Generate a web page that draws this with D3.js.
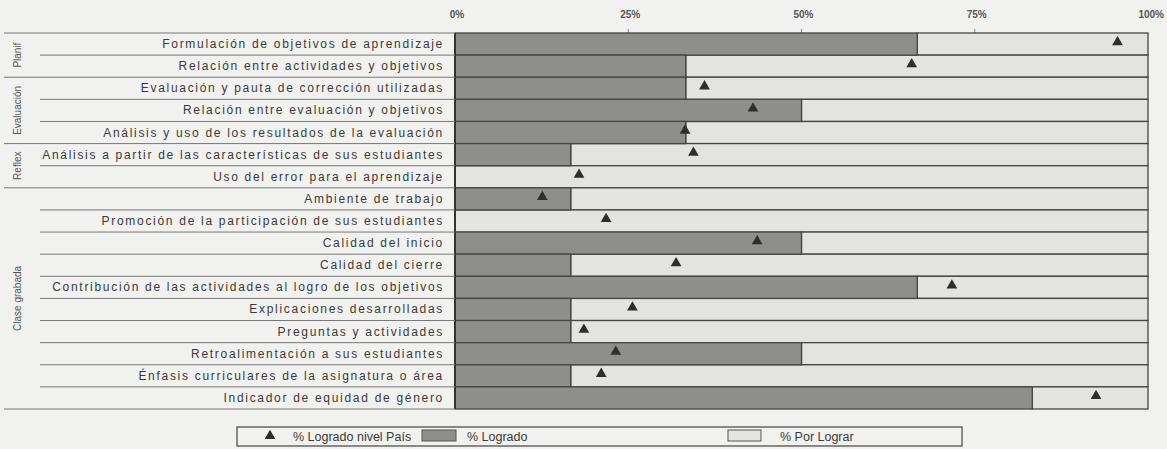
<!DOCTYPE html>
<html>
<head>
<meta charset="utf-8">
<script src="https://cdn.jsdelivr.net/npm/d3@7"></script>
<style>
  body { margin: 0; background: #f1f1ef; }
  svg { display: block; font-family: "Liberation Sans", Arial, sans-serif; }
</style>
</head>
<body>
<svg id="chart" width="1167" height="449"></svg>
<script>
// ---------------- DATA ----------------
const categories = [
  "Formulación de objetivos de aprendizaje",
  "Relación entre actividades y objetivos",
  "Evaluación y pauta de corrección utilizadas",
  "Relación entre evaluación y objetivos",
  "Análisis y uso de los resultados de la evaluación",
  "Análisis a partir de las características de sus estudiantes",
  "Uso del error para el aprendizaje",
  "Ambiente de trabajo",
  "Promoción de la participación de sus estudiantes",
  "Calidad del inicio",
  "Calidad del cierre",
  "Contribución de las actividades al logro de los objetivos",
  "Explicaciones desarrolladas",
  "Preguntas y actividades",
  "Retroalimentación a sus estudiantes",
  "Énfasis curriculares de la asignatura o área",
  "Indicador de equidad de género"
];
// % Logrado (escuela)
const logrado = [66.7, 33.3, 33.3, 50, 33.3, 16.7, 0, 16.7, 0, 50, 16.7, 66.7, 16.7, 16.7, 50, 16.7, 83.3];
// % Logrado nivel País
const pais = [95.6, 65.9, 36, 43, 33.2, 34.4, 17.9, 12.6, 21.8, 43.6, 31.9, 71.7, 25.6, 18.6, 23.2, 21.1, 92.5];
// groups: name, first row, last row
const groups = [
  { name: "Planif", start: 0, end: 1 },
  { name: "Evaluación", start: 2, end: 4 },
  { name: "Reflex", start: 5, end: 6 },
  { name: "Clase grabada", start: 7, end: 16 }
];
const ticks = [0, 25, 50, 75, 100];
const legendLabels = ["% Logrado nivel País", "% Logrado", "% Por Lograr"];

// ---------------- SETUP ----------------
const svg = d3.select("#chart");
const darkFill = "#8e8e8c";
const lightFill = "#e3e3e1";
const lineCol = "#454545";
const textCol = "#3a3a3a";

const x = d3.scaleLinear().domain([0, 100]).range([455, 1148]);
const y = d3.scaleBand().domain(d3.range(categories.length)).range([33, 409]).padding(0);

// ---------------- AXIS LABELS ----------------
svg.append("g")
  .selectAll("text")
  .data(ticks)
  .join("text")
  .attr("x", d => x(d))
  .attr("y", 18)
  .attr("text-anchor", d => d === 100 ? "end" : "middle")
  .attr("dx", d => d === 100 ? 16 : 2)
  .attr("font-size", 10)
  .attr("font-weight", "bold")
  .attr("fill", "#555")
  .text(d => d + "%");

// small ticks on top edge
svg.append("g")
  .selectAll("line")
  .data(ticks.slice(1, 4))
  .join("line")
  .attr("x1", d => x(d)).attr("x2", d => x(d))
  .attr("y1", 29).attr("y2", 33)
  .attr("stroke", "#888");

// ---------------- BARS ----------------
const rows = svg.append("g");

// % Por Lograr (remaining part)
rows.selectAll("rect.rest")
  .data(logrado)
  .join("rect")
  .attr("class", "rest")
  .attr("x", d => x(d))
  .attr("y", (d, i) => y(i))
  .attr("width", d => x(100) - x(d))
  .attr("height", y.bandwidth())
  .attr("fill", lightFill)
  .attr("stroke", lineCol)
  .attr("stroke-width", 1.3);

// % Logrado
rows.selectAll("rect.done")
  .data(logrado)
  .join("rect")
  .attr("class", "done")
  .attr("x", x(0))
  .attr("y", (d, i) => y(i))
  .attr("width", d => x(d) - x(0))
  .attr("height", y.bandwidth())
  .attr("fill", darkFill)
  .attr("stroke", lineCol)
  .attr("stroke-width", 1.3);

// left axis line
svg.append("line")
  .attr("x1", x(0)).attr("x2", x(0))
  .attr("y1", y(0)).attr("y2", y(categories.length - 1) + y.bandwidth())
  .attr("stroke", "#333").attr("stroke-width", 2);

// ---------------- ROW SEPARATORS + LABELS ----------------
const groupStarts = groups.map(g => g.start);

svg.append("g")
  .selectAll("line")
  .data(d3.range(categories.length + 1))
  .join("line")
  .attr("x1", i => (groupStarts.includes(i) || i === categories.length) ? 4 : 40)
  .attr("x2", x(0))
  .attr("y1", i => i < categories.length ? y(i) : y(i - 1) + y.bandwidth())
  .attr("y2", i => i < categories.length ? y(i) : y(i - 1) + y.bandwidth())
  .attr("stroke", "#777")
  .attr("stroke-width", 1);

svg.append("g")
  .selectAll("text")
  .data(categories)
  .join("text")
  .attr("x", 444)
  .attr("y", (d, i) => y(i) + y.bandwidth() / 2 + 4)
  .attr("text-anchor", "end")
  .attr("font-size", 12)
  .attr("letter-spacing", 1.7)
  .attr("fill", textCol)
  .text(d => d);

// group labels (rotated)
svg.append("g")
  .selectAll("text")
  .data(groups)
  .join("text")
  .attr("transform", g => {
    const cy = (y(g.start) + y(g.end) + y.bandwidth()) / 2;
    return `translate(21,${cy}) rotate(-90)`;
  })
  .attr("text-anchor", "middle")
  .attr("font-size", 10)
  .attr("fill", "#555")
  .text(g => g.name);

// ---------------- TRIANGLES (País) ----------------
const tri = d3.symbol().type(d3.symbolTriangle).size(50);
svg.append("g")
  .selectAll("path")
  .data(pais)
  .join("path")
  .attr("d", tri)
  .attr("transform", (d, i) => `translate(${x(d)},${y(i) + y.bandwidth() / 2 - 2})`)
  .attr("fill", "#2e2e2e");

// ---------------- LEGEND ----------------
const legend = svg.append("g");
legend.append("rect")
  .attr("x", 237).attr("y", 427)
  .attr("width", 725).attr("height", 19)
  .attr("fill", "none")
  .attr("stroke", "#444")
  .attr("stroke-width", 1.2);

legend.append("path")
  .attr("d", tri)
  .attr("transform", "translate(270,436)")
  .attr("fill", "#2e2e2e");

legend.append("rect")
  .attr("x", 422).attr("y", 430).attr("width", 34).attr("height", 11)
  .attr("fill", darkFill).attr("stroke", "#555");

legend.append("rect")
  .attr("x", 728).attr("y", 430).attr("width", 33).attr("height", 11)
  .attr("fill", lightFill).attr("stroke", "#555");

legend.selectAll("text")
  .data(legendLabels)
  .join("text")
  .attr("x", (d, i) => [293, 467, 780][i])
  .attr("y", 441)
  .attr("font-size", 12.5)
  .attr("fill", textCol)
  .text(d => d);
</script>
</body>
</html>
